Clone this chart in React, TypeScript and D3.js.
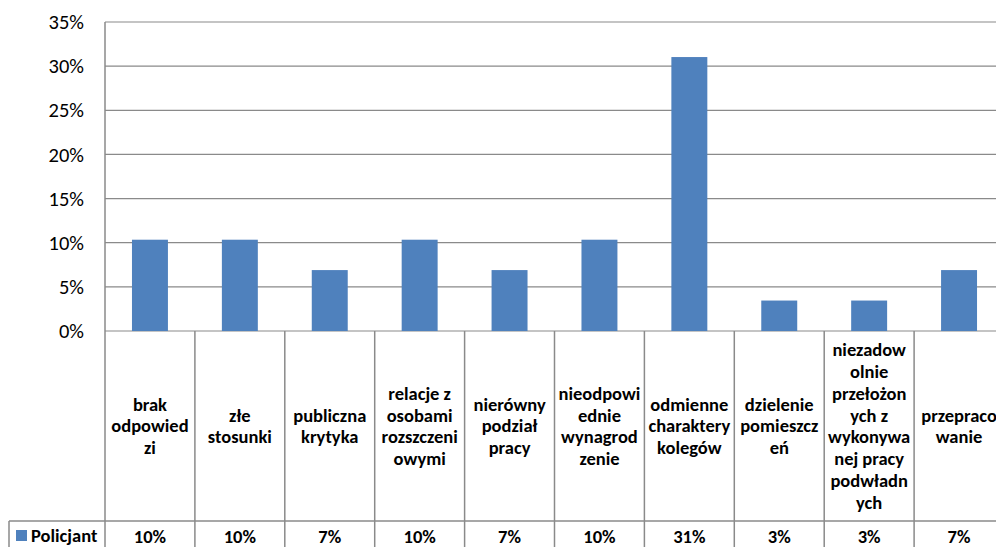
import React from "react";
import * as d3 from "d3";

// Survey categories (full names) and how they are broken in the table cells
const categories = [
  "brak odpowiedzi",
  "złe stosunki",
  "publiczna krytyka",
  "relacje z osobami roszczeniowymi",
  "nierówny podział pracy",
  "nieodpowiednie wynagrodzenie",
  "odmienne charaktery kolegów",
  "dzielenie pomieszczeń",
  "niezadowolnie przełożonych z wykonywanej pracy podwładnych",
  "przepracowanie",
];
const categoryLines = [
  ["brak", "odpowied", "zi"],
  ["złe", "stosunki"],
  ["publiczna", "krytyka"],
  ["relacje z", "osobami", "rozszczeni", "owymi"],
  ["nierówny", "podział", "pracy"],
  ["nieodpowi", "ednie", "wynagrod", "zenie"],
  ["odmienne", "charaktery", "kolegów"],
  ["dzielenie", "pomieszcz", "eń"],
  ["niezadow", "olnie", "przełożon", "ych z", "wykonywa", "nej pracy", "podwładn", "ych"],
  ["przepraco", "wanie"],
];
const seriesName = "Policjant";
const values = [0.1034, 0.1034, 0.069, 0.1034, 0.069, 0.1034, 0.3103, 0.0345, 0.0345, 0.069];
const yTicks = [0, 0.05, 0.1, 0.15, 0.2, 0.25, 0.3, 0.35];

const W = 996;
const H = 547;
const plotLeft = 105;
const bandW = 89.9;
const plotRight = plotLeft + bandW * categories.length;
const plotTop = 22;
const plotBottom = 331;
const catRowBottom = 521;
const tableLeft = 9;

const font = "Carlito, Calibri, Lato, 'Liberation Sans', sans-serif";
const gridColor = "#8a8a8a";
const barColor = "#4F81BD";

export default function App() {
  const x = d3.scaleBand<string>().domain(categories).range([plotLeft, plotRight]).paddingInner(0).paddingOuter(0);
  const y = d3.scaleLinear().domain([0, 0.35]).range([plotBottom, plotTop]);
  const fmt = d3.format(".0%");
  const barW = x.bandwidth() * 0.4;
  const lineH = 21.9;
  const catMid = (plotBottom + catRowBottom) / 2;

  return (
    <svg
      width={W}
      height={H}
      style={{ position: "absolute", left: 0, top: 0, background: "#fff" }}
      fontFamily={font}
    >
      {/* horizontal gridlines + y tick labels */}
      {yTicks.map((t) => (
        <g key={t}>
          <line x1={plotLeft} x2={plotRight} y1={y(t)} y2={y(t)} stroke={gridColor} strokeWidth={1.2} />
          <text x={84} y={y(t)} dy="0.35em" textAnchor="end" fontSize={20.5} fill="#000">
            {fmt(t)}
          </text>
        </g>
      ))}

      {/* bars */}
      {values.map((v, i) => (
        <rect
          key={categories[i]}
          x={(x(categories[i]) as number) + (x.bandwidth() - barW) / 2}
          y={y(v)}
          width={barW}
          height={y(0) - y(v)}
          fill={barColor}
        />
      ))}

      {/* data table lines */}
      <line x1={plotLeft} x2={plotLeft} y1={plotTop} y2={H + 5} stroke={gridColor} strokeWidth={1.5} />
      {categories.map((c) => (
        <line
          key={c}
          x1={(x(c) as number) + x.bandwidth()}
          x2={(x(c) as number) + x.bandwidth()}
          y1={plotBottom}
          y2={H + 5}
          stroke={gridColor}
          strokeWidth={1.5}
        />
      ))}
      <line x1={tableLeft} x2={plotRight} y1={catRowBottom} y2={catRowBottom} stroke={gridColor} strokeWidth={1.5} />
      <line x1={tableLeft} x2={tableLeft} y1={catRowBottom} y2={H + 5} stroke={gridColor} strokeWidth={1.5} />

      {/* category labels */}
      {categoryLines.map((lines, i) => {
        const cx = (x(categories[i]) as number) + x.bandwidth() / 2;
        const y0 = catMid - ((lines.length - 1) * lineH) / 2;
        return (
          <text key={categories[i]} textAnchor="middle" fontSize={18.5} fontWeight="bold" fill="#000">
            {lines.map((l, j) => (
              <tspan key={j} x={cx} y={y0 + j * lineH} dy="0.35em">
                {l}
              </tspan>
            ))}
          </text>
        );
      })}

      {/* legend key and series values row */}
      <rect x={16} y={530} width={11} height={11} fill={barColor} />
      <text x={31} y={536} dy="0.35em" fontSize={18.5} fontWeight="bold" fill="#000">
        {seriesName}
      </text>
      {values.map((v, i) => (
        <text
          key={categories[i]}
          x={(x(categories[i]) as number) + x.bandwidth() / 2}
          y={537}
          dy="0.35em"
          textAnchor="middle"
          fontSize={18.5}
          fontWeight="bold"
          fill="#000"
        >
          {fmt(v)}
        </text>
      ))}
    </svg>
  );
}
